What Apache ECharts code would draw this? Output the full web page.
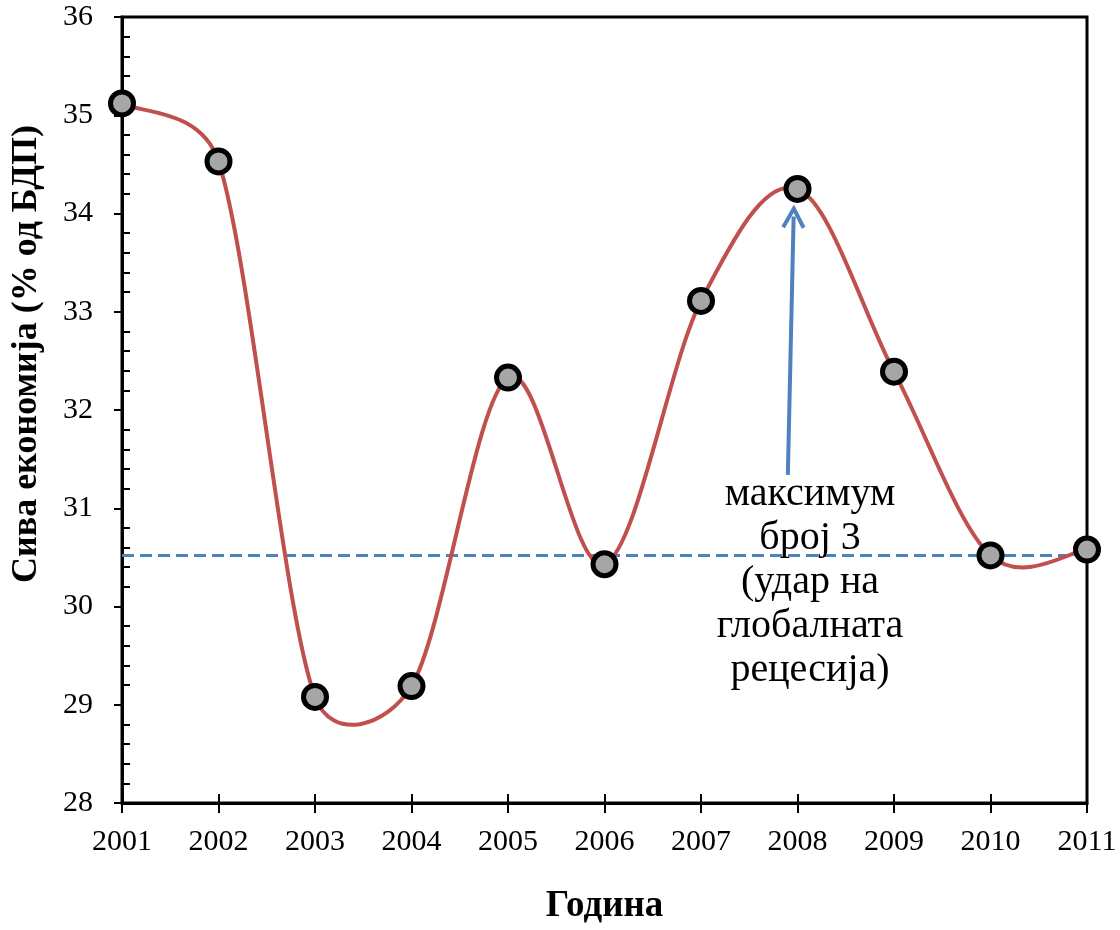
<!DOCTYPE html>
<html>
<head>
<meta charset="utf-8">
<script src="https://cdn.jsdelivr.net/npm/echarts@6/dist/echarts.min.js"></script>
<style>
  html, body { margin: 0; padding: 0; background: #fff; }
  #chartWrapper { width: 1120px; height: 930px; }
</style>
</head>
<body>
<div id="chartWrapper"></div>
<script>
var years = [2001, 2002, 2003, 2004, 2005, 2006, 2007, 2008, 2009, 2010, 2011];
var shadowEconomy = [35.12, 34.53, 29.08, 29.19, 32.33, 30.43, 33.11, 34.25, 32.39, 30.52, 30.58];
var refLevel = 30.52;
var arrowFrom = [2007.90, 31.34];
var arrowTo = [2007.96, 33.97];
var noteAt = [2008.13, 30.24];
var noteText = 'максимум\nброј 3\n(удар на\nглобалната\nрецесија)';

var serif = '"Liberation Serif", "Times New Roman", serif';

var seriesData = [];
for (var i = 0; i < years.length; i++) {
   seriesData.push([years[i], shadowEconomy[i]]);
}

// smoothed curve like the spreadsheet one: bezier between points,
// control arms limited to half of the segment length
var renderCurve = function(params, api) {
   var pts = [];
   for (var i = 0; i < seriesData.length; i++) {
      pts.push(api.coord(seriesData[i]));
   }
   var dist = function(a, b) {
      return Math.sqrt((a[0] - b[0]) * (a[0] - b[0]) + (a[1] - b[1]) * (a[1] - b[1]));
   };
   var children = [];
   for (var j = 0; j < pts.length - 1; j++) {
      var p0 = pts[j > 0 ? j - 1 : j];
      var p1 = pts[j];
      var p2 = pts[j + 1];
      var p3 = pts[j + 2 < pts.length ? j + 2 : j + 1];
      var d12 = dist(p1, p2);
      var d02 = dist(p0, p2) || 1;
      var d13 = dist(p1, p3) || 1;
      var f0 = Math.min(1 / 6, d12 / (2 * d02));
      var f1 = Math.min(1 / 6, d12 / (2 * d13));
      children.push({
         type: 'bezierCurve',
         shape: {
            x1: p1[0], y1: p1[1],
            x2: p2[0], y2: p2[1],
            cpx1: p1[0] + f0 * (p2[0] - p0[0]),
            cpy1: p1[1] + f0 * (p2[1] - p0[1]),
            cpx2: p2[0] - f1 * (p3[0] - p1[0]),
            cpy2: p2[1] - f1 * (p3[1] - p1[1])
         },
         style: { fill: null, stroke: '#c0504d', lineWidth: 4, lineCap: 'round' }
      });
   }
   return { type: 'group', children: children };
};

var iChart = echarts.init(document.getElementById('chartWrapper'));

var option = {
   animation: false,
   grid: {
      left: 122,
      right: 33,
      top: 17,
      bottom: 124,
      show: true,
      borderColor: '#000',
      borderWidth: 3
   },
   xAxis: [{
      type: 'value',
      min: 2001,
      max: 2011,
      interval: 1,
      name: 'Година',
      nameLocation: 'middle',
      nameGap: 85,
      nameTextStyle: { fontFamily: serif, fontSize: 37, fontWeight: 'bold', color: '#000' },
      splitLine: { show: false },
      axisLine: { lineStyle: { color: '#000', width: 3 } },
      axisTick: { length: 10, lineStyle: { color: '#000', width: 2 } },
      axisLabel: {
         fontFamily: serif, fontSize: 30, color: '#000', margin: 24,
         formatter: function(v) { return String(v); }
      }
   }, {
      type: 'value',
      min: 2001,
      max: 2011,
      interval: 1,
      position: 'bottom',
      splitLine: { show: false },
      axisLine: { show: false },
      axisTick: { inside: true, length: 9, lineStyle: { color: '#000', width: 2 } },
      axisLabel: { show: false }
   }],
   yAxis: {
      type: 'value',
      min: 28,
      max: 36,
      interval: 1,
      name: 'Сива економија (% од БДП)',
      nameLocation: 'middle',
      nameGap: 77,
      nameTextStyle: {
         fontFamily: serif, fontSize: 36, fontWeight: 'bold', color: '#000',
         padding: [0, 0, 0, 112]
      },
      splitLine: { show: false },
      axisLine: { lineStyle: { color: '#000', width: 3 } },
      axisTick: { length: 8, lineStyle: { color: '#000', width: 2 } },
      minorTick: { show: true, splitNumber: 5, length: -8, lineStyle: { color: '#000', width: 2 } },
      axisLabel: { fontFamily: serif, fontSize: 30, color: '#000', margin: 29 }
   },
   series: [{
      type: 'custom',
      data: [seriesData[0]],
      renderItem: renderCurve,
      silent: true,
      z: 3
   }, {
      type: 'scatter',
      data: seriesData,
      z: 5,
      symbol: 'circle',
      symbolSize: 23,
      itemStyle: { color: '#a6a6a6', borderColor: '#000', borderWidth: 5, opacity: 1 },
      markLine: {
         silent: true,
         symbol: ['none', 'none'],
         label: { show: false },
         lineStyle: { color: '#4f81bd', width: 3, type: [12, 6] },
         z: 2,
         data: [{ yAxis: refLevel }]
      }
   }, {
      type: 'scatter',
      data: [noteAt],
      z: 4,
      silent: true,
      symbolSize: 1,
      itemStyle: { color: '#ffffff', opacity: 0 },
      label: {
         show: true,
         position: 'inside',
         formatter: noteText,
         fontFamily: serif,
         fontSize: 40,
         lineHeight: 44,
         color: '#000',
         opacity: 1,
         textBorderWidth: 0,
         align: 'center',
         verticalAlign: 'middle'
      },
      markLine: {
         silent: true,
         symbol: ['none', 'path://M12,0 L24,22 L20.5,24 L12,8.4 L3.5,24 L0,22 Z'],
         symbolSize: [24, 24],
         label: { show: false },
         lineStyle: { color: '#4f81bd', width: 4, type: 'solid', opacity: 1 },
         itemStyle: { color: '#4f81bd', opacity: 1 },
         data: [[{ coord: arrowFrom }, { coord: arrowTo }]]
      }
   }]
};

iChart.setOption(option);
</script>
</body>
</html>
